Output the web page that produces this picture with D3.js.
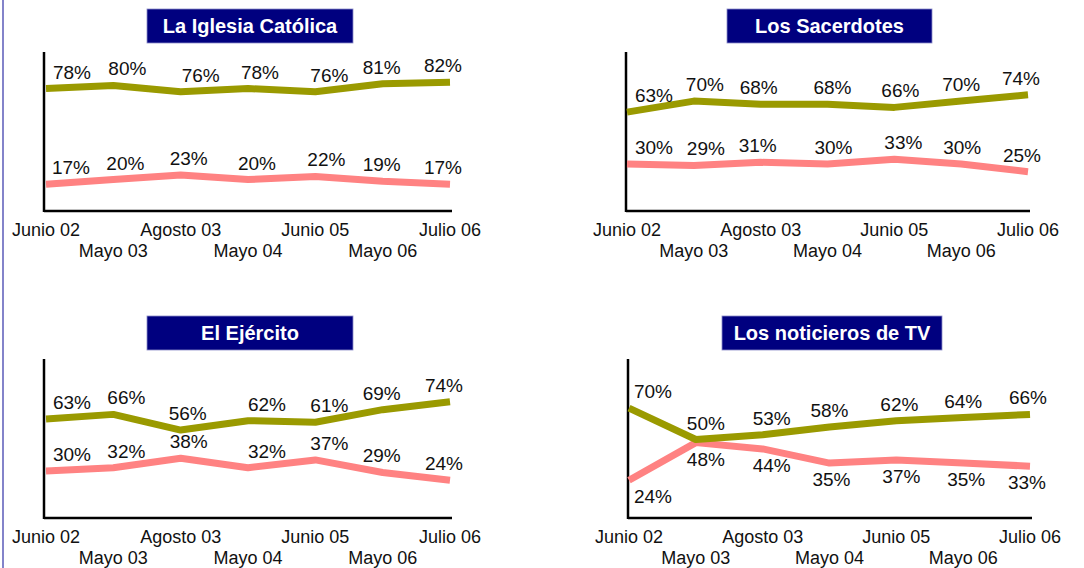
<!DOCTYPE html>
<html>
<head>
<meta charset="utf-8">
<script src="https://cdn.jsdelivr.net/npm/d3@7"></script>
<style>
  body { margin: 0; background: #fff; }
  svg { display: block; font-family: "Liberation Sans", Arial, sans-serif; }
</style>
</head>
<body>
<script>
// data
var fechas = ["Junio 02", "Mayo 03", "Agosto 03", "Mayo 04", "Junio 05", "Mayo 06", "Julio 06"];
var titulos = ["La Iglesia Católica", "Los Sacerdotes", "El Ejército", "Los noticieros de TV"];

var iglesiaAlta = [78, 80, 76, 78, 76, 81, 82];
var iglesiaBaja = [17, 20, 23, 20, 22, 19, 17];
var sacerdotesAlta = [63, 70, 68, 68, 66, 70, 74];
var sacerdotesBaja = [30, 29, 31, 30, 33, 30, 25];
var ejercitoAlta = [63, 66, 56, 62, 61, 69, 74];
var ejercitoBaja = [30, 32, 38, 32, 37, 29, 24];
var tvAlta = [70, 50, 53, 58, 62, 64, 66];
var tvBaja = [24, 48, 44, 35, 37, 35, 33];

var olive = "#9a9a00", pink = "#ff8282", navy = "#00007f";

// layout of each panel (axis corner + title box), plus label nudges
var panels = [
  {title: titulos[0], alta: iglesiaAlta, baja: iglesiaBaja,
   ax: 44, x0: 46, x1: 450, y0: 211, boxCx: 250, boxW: 206, boxTop: 9,
   nudgeA: [26, 14, 20, 12, 14, -1, -7], nudgeB: [25, 12, 8, 9, 11, -1, -7], below: false},
  {title: titulos[1], alta: sacerdotesAlta, baja: sacerdotesBaja,
   ax: 626, x0: 627, x1: 1028, y0: 211, boxCx: 829.5, boxW: 205, boxTop: 9,
   nudgeA: [27, 11, -2, 5, 6, 0, -7], nudgeB: [27, 12, -3, 6, 9, 1, -6], below: false},
  {title: titulos[2], alta: ejercitoAlta, baja: ejercitoBaja,
   ax: 44, x0: 46, x1: 450, y0: 518, boxCx: 250, boxW: 206, boxTop: 316,
   nudgeA: [26, 13, 7, 19, 14, -1, -6], nudgeB: [26, 13, 8, 19, 14, -1, -6], below: false},
  {title: titulos[3], alta: tvAlta, baja: tvBaja,
   ax: 628, x0: 629, x1: 1030, y0: 518, boxCx: 832, boxW: 220, boxTop: 316,
   nudgeA: [24, 10, 9, 0, 3, 0, -2], nudgeB: [24, 10, 9, 2, 5, 3, -3], below: true}
];

var svg = d3.select("body")
    .append("svg")
    .attr("width", 1084)
    .attr("height", 568);

// left frame line
svg.append("line")
    .attr("x1", 3).attr("x2", 3)
    .attr("y1", 0).attr("y2", 568)
    .attr("stroke", "#5a5ab8")
    .attr("stroke-width", 1.5);

panels.forEach(function (p) {
    var g = svg.append("g");

    var x = d3.scalePoint()
        .domain(fechas)
        .range([p.x0, p.x1]);

    var y = d3.scaleLinear()
        .domain([0, 100])
        .range([p.y0, p.y0 - 157]);

    // title box
    g.append("rect")
        .attr("x", p.boxCx - p.boxW / 2)
        .attr("y", p.boxTop)
        .attr("width", p.boxW)
        .attr("height", 34)
        .attr("fill", navy)
        .attr("stroke", "#8c8cc8")
        .attr("stroke-width", 0.8);

    g.append("text")
        .attr("x", p.boxCx)
        .attr("y", p.boxTop + 24)
        .attr("text-anchor", "middle")
        .attr("fill", "#fff")
        .attr("font-weight", "bold")
        .attr("font-size", 20)
        .text(p.title);

    // axes (no ticks, just the lines)
    g.append("line")
        .attr("x1", p.ax).attr("x2", p.ax)
        .attr("y1", p.y0 - 159).attr("y2", p.y0 + 1)
        .attr("stroke", "#000").attr("stroke-width", 2.5);
    g.append("line")
        .attr("x1", p.ax).attr("x2", p.x1 + 2)
        .attr("y1", p.y0).attr("y2", p.y0)
        .attr("stroke", "#000").attr("stroke-width", 2.5);

    // staggered category labels
    g.selectAll(".tick")
        .data(fechas)
        .enter()
        .append("text")
        .attr("x", d => x(d))
        .attr("y", (d, i) => p.y0 + (i % 2 === 0 ? 25 : 46))
        .attr("text-anchor", "middle")
        .attr("font-size", 18)
        .attr("fill", "#111")
        .text(d => d);

    var line = d3.line()
        .x((d, i) => x(fechas[i]))
        .y(d => y(d))
        .curve(d3.curveLinear);

    // pink first, olive on top
    g.append("path")
        .attr("d", line(p.baja))
        .attr("fill", "none")
        .attr("stroke", pink)
        .attr("stroke-width", 7)
        .attr("stroke-linejoin", "round");

    g.append("path")
        .attr("d", line(p.alta))
        .attr("fill", "none")
        .attr("stroke", olive)
        .attr("stroke-width", 7)
        .attr("stroke-linejoin", "round");

    // value labels
    g.selectAll(".lblA")
        .data(p.alta)
        .enter()
        .append("text")
        .attr("x", (d, i) => x(fechas[i]) + p.nudgeA[i])
        .attr("y", d => y(d) - 10)
        .attr("text-anchor", "middle")
        .attr("font-size", 19)
        .attr("fill", "#111")
        .text(d => d + "%");

    g.selectAll(".lblB")
        .data(p.baja)
        .enter()
        .append("text")
        .attr("x", (d, i) => x(fechas[i]) + p.nudgeB[i])
        .attr("y", d => p.below ? y(d) + 23 : y(d) - 10)
        .attr("text-anchor", "middle")
        .attr("font-size", 19)
        .attr("fill", "#111")
        .text(d => d + "%");
});
</script>
</body>
</html>
